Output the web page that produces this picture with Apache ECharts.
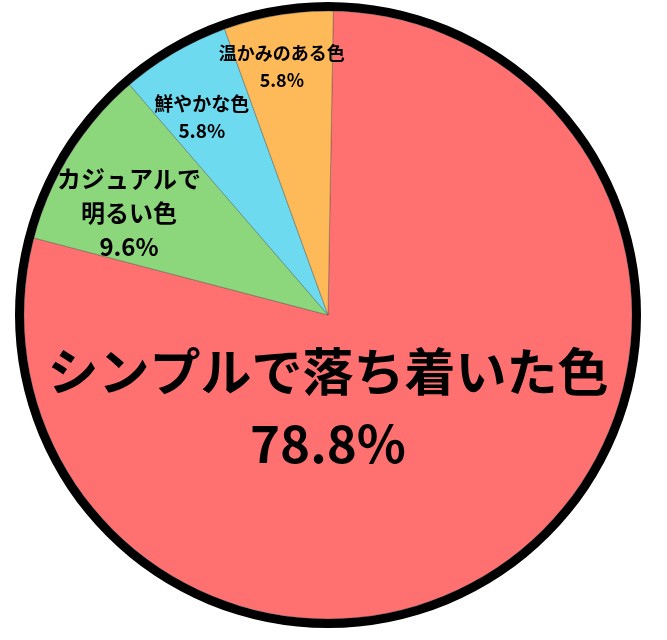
<!DOCTYPE html>
<html>
<head>
<meta charset="utf-8">
<script src="https://cdn.jsdelivr.net/npm/echarts@6/dist/echarts.min.js"></script>
<style>
html,body{margin:0;padding:0;background:#fff;}
#chart{width:667px;height:640px;}
</style>
</head>
<body>
<div id="chart"></div>
<script>
// ---- data ----
const categories = ['シンプルで落ち着いた色', 'カジュアルで\n明るい色', '鮮やかな色', '温かみのある色'];
const shares = [78.8, 9.6, 5.8, 5.8];

// ---- styles ----
const sliceColors = ['#ff7171', '#8cd77c', '#6ddaef', '#feba58'];
const labelFont = [
  { fontSize: 51, lineHeight: 72 },
  { fontSize: 24, lineHeight: 34 },
  { fontSize: 19, lineHeight: 27 },
  { fontSize: 18, lineHeight: 27 }
];
// label placement: absolute angle override or shift from mid angle, radial fraction
const labelPlace = [
  { angle: -90, frac: 0.306 },
  { shift: 4.9, frac: 0.735 },
  { shift: 2.2, frac: 0.772 },
  { shift: 1.1, frac: 0.83 }
];
const cx = 328, cy = 315, R = 304, ringW = 9, startAngle = 89;

const total = shares.reduce((a, b) => a + b, 0);
const midAngles = [];
{
  let a = startAngle;
  shares.forEach(v => {
    const span = v / total * 360;
    midAngles.push(a - span / 2);
    a -= span;
  });
}

const chart = echarts.init(document.getElementById('chart'), null, { renderer: 'canvas' });
chart.setOption({
  backgroundColor: '#ffffff',
  animation: false,
  series: [
    {
      type: 'pie',
      center: [cx, cy],
      radius: [0, R],
      startAngle: startAngle,
      clockwise: true,
      avoidLabelOverlap: false,
      labelLine: { show: false },
      itemStyle: { borderColor: 'rgba(60,60,60,0.6)', borderWidth: 0.6 },
      emphasis: { disabled: true },
      data: categories.map((c, i) => ({
        name: c,
        value: shares[i],
        itemStyle: { color: sliceColors[i] },
        label: {
          show: true,
          position: 'inside',
          color: '#000',
          fontFamily: '"Noto Sans CJK JP", "Noto Sans", sans-serif',
          fontWeight: 'bold',
          fontSize: labelFont[i].fontSize,
          lineHeight: labelFont[i].lineHeight,
          align: 'center',
          formatter: p => p.name + '\n' + p.value.toFixed(1) + '%'
        }
      })),
      labelLayout: function (params) {
        const i = params.dataIndex;
        const pl = labelPlace[i];
        const ang = (pl.angle !== undefined ? pl.angle : midAngles[i] + pl.shift) * Math.PI / 180;
        const r = pl.frac * R;
        return {
          x: cx + r * Math.cos(ang),
          y: cy - r * Math.sin(ang),
          align: 'center',
          verticalAlign: 'middle'
        };
      }
    },
    {
      type: 'pie',
      center: [cx, cy],
      radius: [R, R + ringW],
      silent: true,
      label: { show: false },
      labelLine: { show: false },
      itemStyle: { color: '#000', borderWidth: 0 },
      data: [{ value: 1, name: 'ring' }]
    }
  ]
});
</script>
</body>
</html>
